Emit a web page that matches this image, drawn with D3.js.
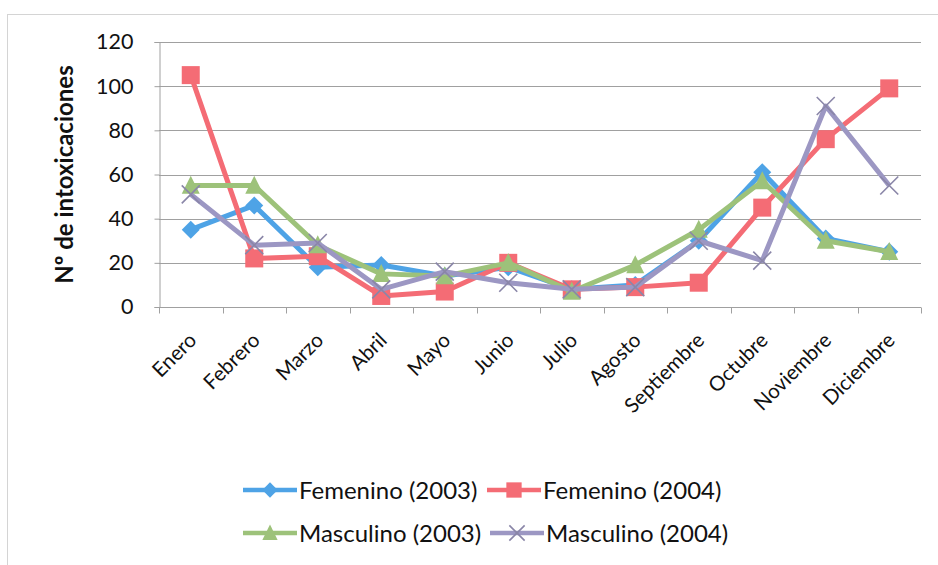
<!DOCTYPE html>
<html>
<head>
<meta charset="utf-8">
<script src="https://cdn.jsdelivr.net/npm/d3@7"></script>
<style>
  html, body { margin: 0; padding: 0; background: #fff; }
  svg { display: block; font-family: Lato, "Open Sans", sans-serif; }
</style>
</head>
<body>
<svg id="chart" width="938" height="565"></svg>
<script>
// Monthly poisoning counts by sex and year
const months = ["Enero", "Febrero", "Marzo", "Abril", "Mayo", "Junio", "Julio",
                "Agosto", "Septiembre", "Octubre", "Noviembre", "Diciembre"];
const femenino2003  = [35, 46, 18, 19, 14, 18, 8, 10, 30, 61, 31, 25];
const femenino2004  = [105, 22, 23, 5, 7, 20, 8, 9, 11, 45, 76, 99];
const masculino2003 = [55, 55, 28, 15, 14, 20, 7, 19, 35, 57, 30, 25];
const masculino2004 = [51, 28, 29, 8, 16, 11, 8, 9, 30, 21, 91, 55];
const yTicks = [0, 20, 40, 60, 80, 100, 120];
const yTitle = "Nº de intoxicaciones";

const series = [
  { name: "Femenino (2003)",  values: femenino2003,  color: "#4ea3e6", marker: "diamond" },
  { name: "Femenino (2004)",  values: femenino2004,  color: "#f46c75", marker: "square" },
  { name: "Masculino (2003)", values: masculino2003, color: "#9dc27a", marker: "triangle" },
  { name: "Masculino (2004)", values: masculino2004, color: "#9c97c3", marker: "cross" }
];

const svg = d3.select("#chart");
const plot = { left: 159, right: 921, top: 42, bottom: 307 };

// outer chart frame
svg.append("rect")
  .attr("x", 7.5).attr("y", 14.5).attr("width", 950).attr("height", 560)
  .attr("fill", "none").attr("stroke", "#d4d4d4").attr("stroke-width", 1);

const x = d3.scaleBand().domain(months).range([plot.left, plot.right]).padding(0);
const y = d3.scaleLinear().domain([0, 120]).range([plot.bottom, plot.top]);
const cx = m => x(m) + x.bandwidth() / 2;

// horizontal gridlines
svg.append("g")
  .selectAll("line")
  .data(yTicks)
  .join("line")
  .attr("x1", plot.left).attr("x2", plot.right)
  .attr("y1", d => Math.round(y(d)) + 0.5).attr("y2", d => Math.round(y(d)) + 0.5)
  .attr("stroke", "#a0a0a0").attr("stroke-width", 1);

// y axis
const yAxis = svg.append("g")
  .attr("transform", `translate(${plot.left + 0.5},0)`)
  .call(d3.axisLeft(y).tickValues(yTicks).tickSize(5).tickPadding(21));
yAxis.select(".domain").attr("stroke", "#a0a0a0");
yAxis.selectAll(".tick line").attr("stroke", "#a0a0a0");
yAxis.selectAll(".tick text")
  .attr("font-size", 21.5).attr("fill", "#111")
  .attr("font-family", "Lato, sans-serif");

// x axis: ticks at category boundaries
const xAxisG = svg.append("g").attr("transform", `translate(0,${Math.round(plot.bottom) + 0.5})`);
xAxisG.append("line")
  .attr("x1", plot.left).attr("x2", plot.right)
  .attr("stroke", "#a0a0a0");
xAxisG.selectAll("line.tk")
  .data(months.concat(["__end"]))
  .join("line")
  .attr("class", "tk")
  .attr("x1", d => Math.round(d === "__end" ? plot.right : x(d)) + 0.5)
  .attr("x2", d => Math.round(d === "__end" ? plot.right : x(d)) + 0.5)
  .attr("y1", 0).attr("y2", 6)
  .attr("stroke", "#a0a0a0");

xAxisG.selectAll("text")
  .data(months)
  .join("text")
  .attr("transform", d => `translate(${cx(d) + 7},${34}) rotate(-45)`)
  .attr("text-anchor", "end")
  .attr("font-size", 20.5)
  .attr("fill", "#111")
  .text(d => d);

// y title
svg.append("text")
  .attr("transform", `translate(73,${(plot.top + plot.bottom) / 2}) rotate(-90)`)
  .attr("text-anchor", "middle")
  .attr("font-size", 24)
  .attr("font-weight", "bold")
  .attr("fill", "#111")
  .text(yTitle);

// marker shapes
function drawMarker(g, type, color, px, py, k = 1) {
  if (type === "diamond") {
    const r = 9 * k;
    g.append("path")
      .attr("d", `M${px},${py - r}L${px + r},${py}L${px},${py + r}L${px - r},${py}Z`)
      .attr("fill", color);
  } else if (type === "square") {
    const r = 9 * k;
    g.append("rect")
      .attr("x", px - r).attr("y", py - r).attr("width", 2 * r).attr("height", 2 * r)
      .attr("fill", color);
  } else if (type === "triangle") {
    const r = 9 * k;
    g.append("path")
      .attr("d", `M${px},${py - r * 1.1}L${px + r},${py + r * 0.9}L${px - r},${py + r * 0.9}Z`)
      .attr("fill", color);
  } else if (type === "cross") {
    const r = 9 * k;
    g.append("path")
      .attr("d", `M${px - r},${py - r}L${px + r},${py + r}M${px + r},${py - r}L${px - r},${py + r}`)
      .attr("stroke", "#8a86a8").attr("stroke-width", 1.6).attr("fill", "none");
  }
}

const line = d3.line().x(d => cx(d.m)).y(d => y(d.v));

series.forEach(s => {
  const pts = months.map((m, i) => ({ m, v: s.values[i] }));
  const g = svg.append("g");
  g.append("path")
    .datum(pts)
    .attr("d", line)
    .attr("fill", "none")
    .attr("stroke", s.color)
    .attr("stroke-width", 5)
    .attr("stroke-linejoin", "round");
  pts.forEach(p => drawMarker(g, s.marker, s.color, cx(p.m), y(p.v)));
});

// legend
const legendItems = [
  { s: series[0], lx: 243, ly: 490 },
  { s: series[1], lx: 487, ly: 490 },
  { s: series[2], lx: 243, ly: 533 },
  { s: series[3], lx: 490, ly: 533 }
];
legendItems.forEach(it => {
  const g = svg.append("g");
  g.append("line")
    .attr("x1", it.lx).attr("x2", it.lx + 54)
    .attr("y1", it.ly).attr("y2", it.ly)
    .attr("stroke", it.s.color).attr("stroke-width", 4.5);
  drawMarker(g, it.s.marker, it.s.color, it.lx + 27, it.ly, 0.85);
  g.append("text")
    .attr("x", it.lx + 56).attr("y", it.ly)
    .attr("dy", "0.36em")
    .attr("font-size", 24)
    .attr("fill", "#111")
    .text(it.s.name);
});
</script>
</body>
</html>
